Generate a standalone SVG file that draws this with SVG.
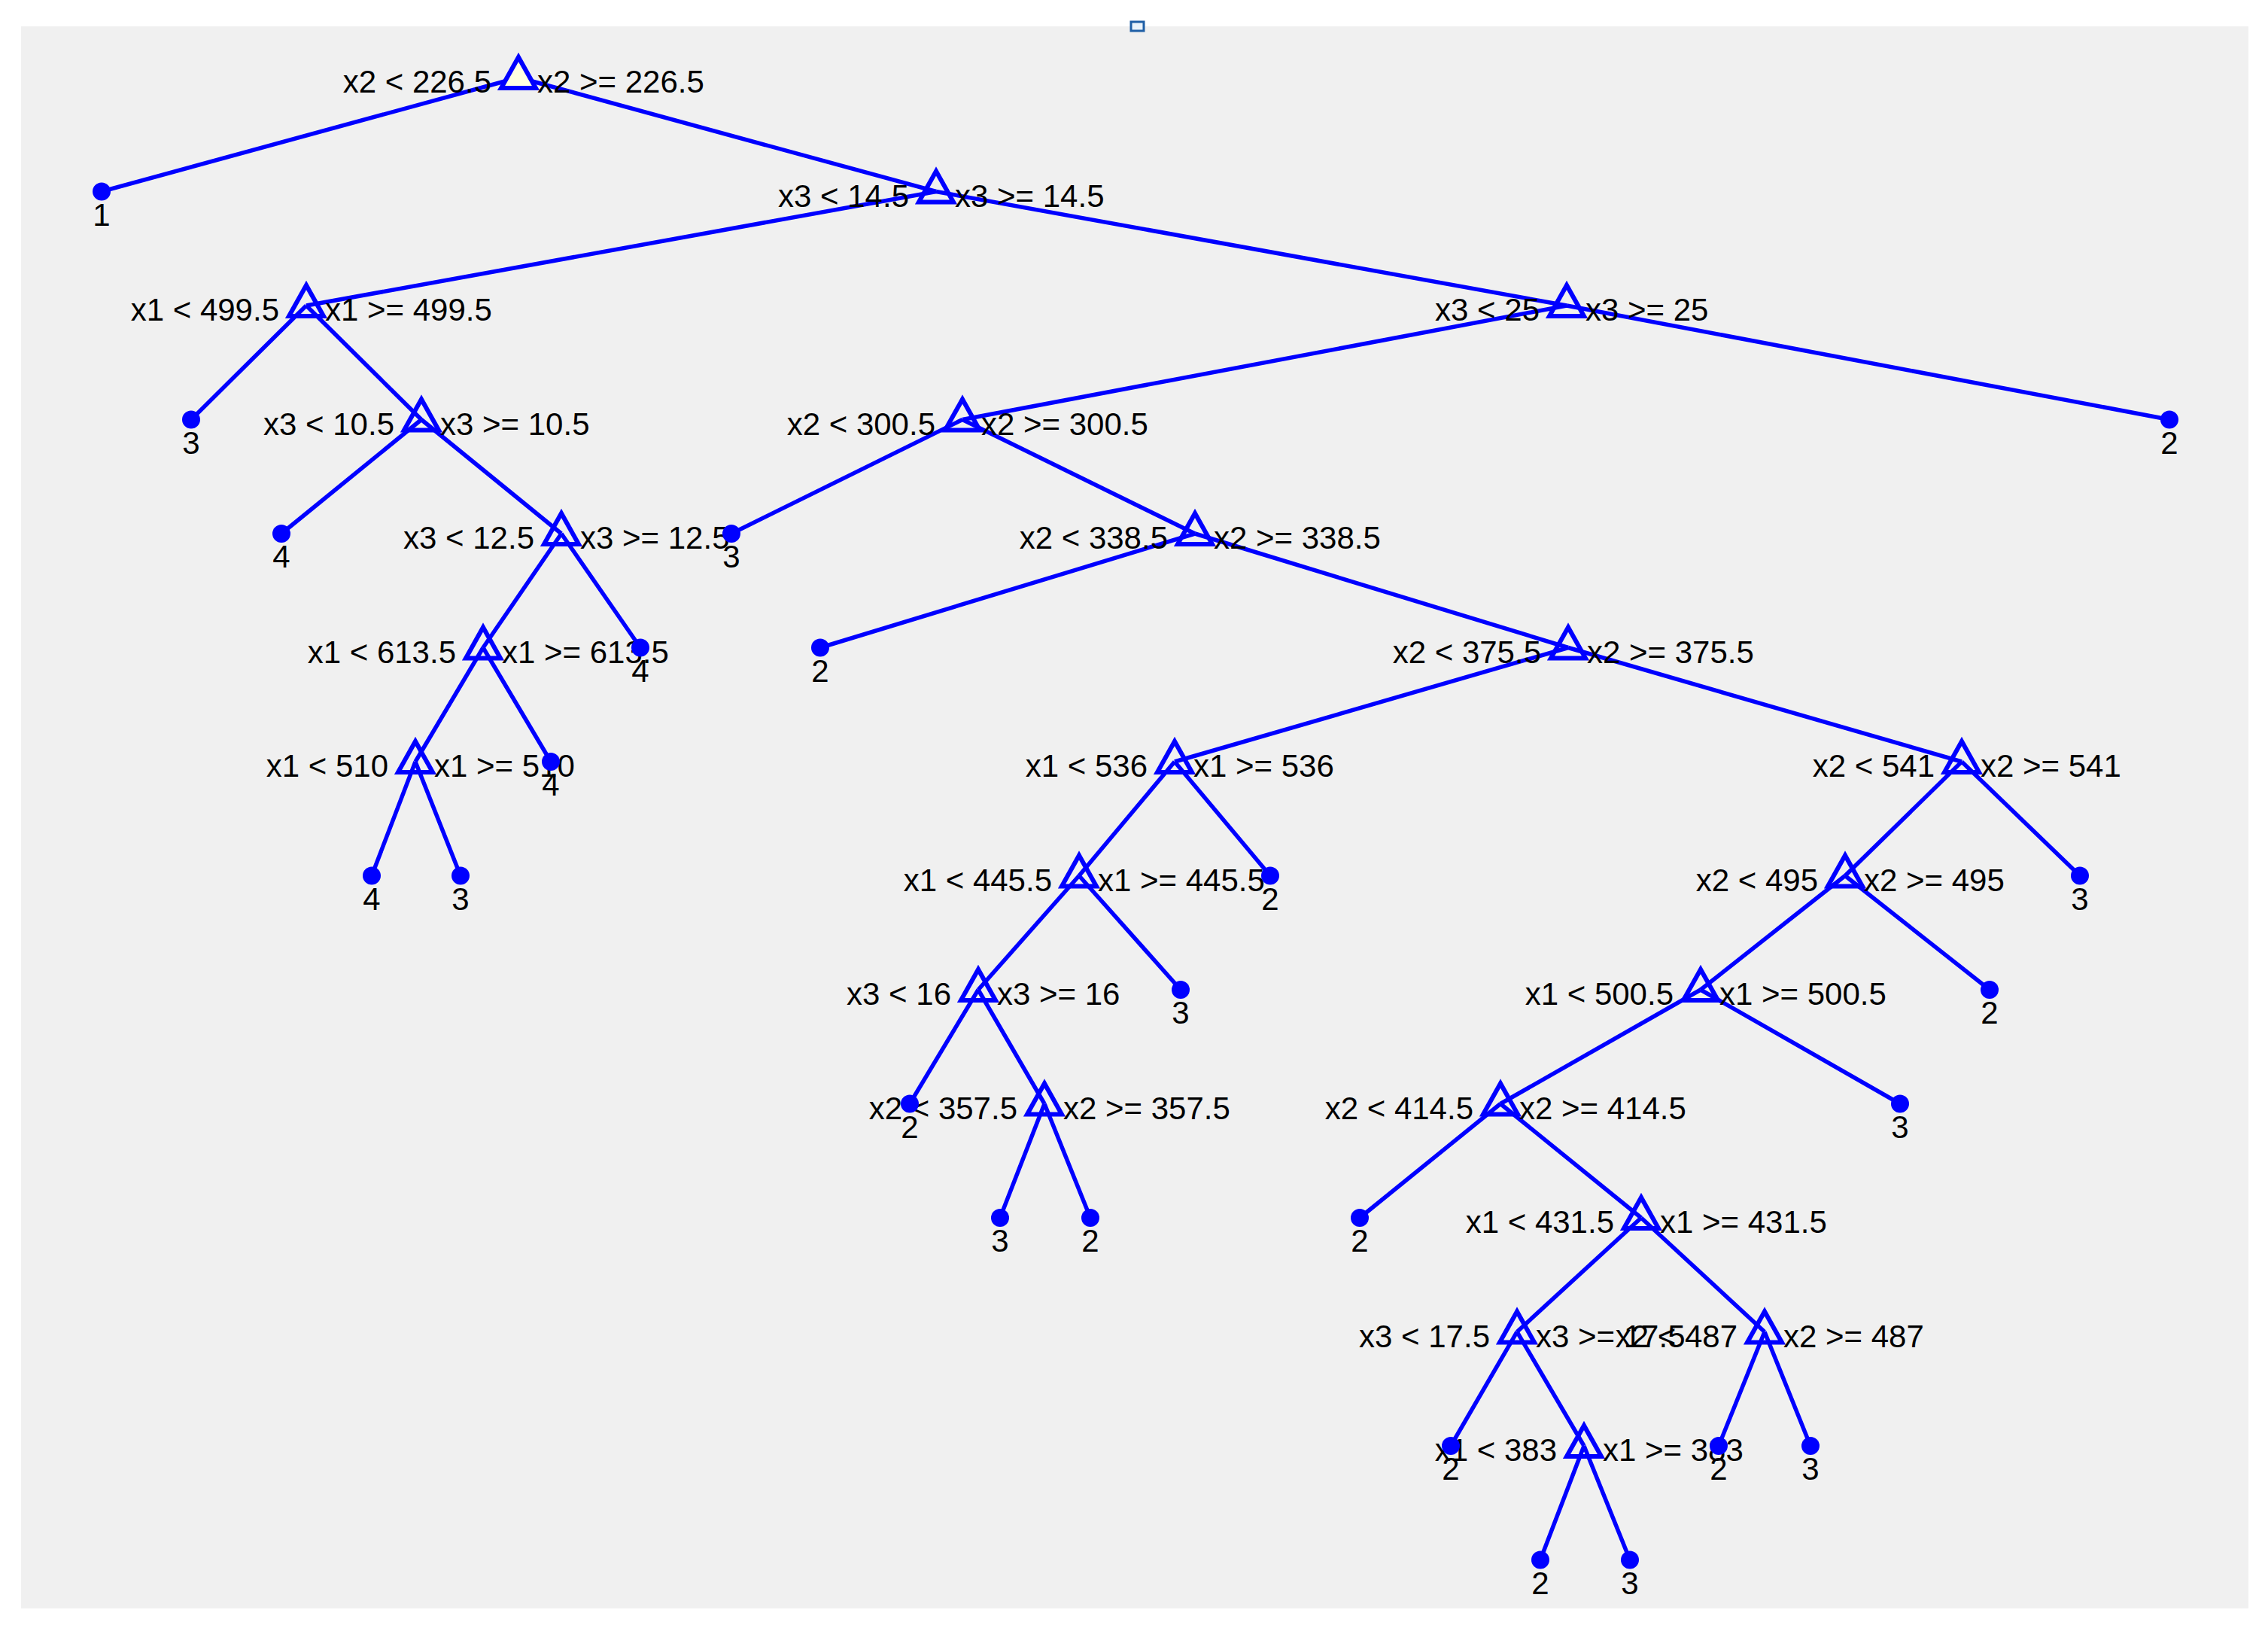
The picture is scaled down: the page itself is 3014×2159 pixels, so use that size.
<svg xmlns="http://www.w3.org/2000/svg" xmlns:xlink="http://www.w3.org/1999/xlink" width="3014" height="2159" viewBox="0 0 3014 2159">
<defs>
<style>
text{font-family:"Liberation Sans",Arial,sans-serif;font-size:42px;fill:#000}
.l{text-anchor:end}
.r{text-anchor:start}
.v{text-anchor:middle}
.tri{fill:none;stroke:#0000ff;stroke-width:6;stroke-linejoin:miter}
.dot{fill:#0000ff}
#connectors path{stroke:#0000ff;stroke-width:5.5;fill:none}
</style>
<polygon id="tri" class="tri" points="0,-27 -23,14 23,14"/>
</defs>
<rect x="0" y="0" width="3014" height="2159" fill="#ffffff"/>
<rect x="28" y="35" width="2960" height="2102" fill="#f0f0f0"/>
<rect x="1503" y="29" width="17" height="12" fill="#eaf3fb" stroke="#1f5fa6" stroke-width="3"/>
<g id="connectors">
<path d="M689,103 L135,254.5 M689,103 L1244,254.5"/>
<path d="M1244,254.5 L407,406 M1244,254.5 L2082,406"/>
<path d="M407,406 L254,557.5 M407,406 L560,557.5"/>
<path d="M2082,406 L1279,557.5 M2082,406 L2883,557.5"/>
<path d="M560,557.5 L374,709 M560,557.5 L746,709"/>
<path d="M1279,557.5 L972,709 M1279,557.5 L1588,709"/>
<path d="M746,709 L642,860.5 M746,709 L851,860.5"/>
<path d="M1588,709 L1090,860.5 M1588,709 L2084,860.5"/>
<path d="M642,860.5 L552,1012 M642,860.5 L732,1012"/>
<path d="M2084,860.5 L1561,1012 M2084,860.5 L2607,1012"/>
<path d="M552,1012 L494,1163.5 M552,1012 L612,1163.5"/>
<path d="M1561,1012 L1434,1163.5 M1561,1012 L1688,1163.5"/>
<path d="M2607,1012 L2452,1163.5 M2607,1012 L2764,1163.5"/>
<path d="M1434,1163.5 L1300,1315 M1434,1163.5 L1569,1315"/>
<path d="M2452,1163.5 L2260,1315 M2452,1163.5 L2644,1315"/>
<path d="M1300,1315 L1209,1466.5 M1300,1315 L1388,1466.5"/>
<path d="M2260,1315 L1994,1466.5 M2260,1315 L2525,1466.5"/>
<path d="M1388,1466.5 L1329,1618 M1388,1466.5 L1449,1618"/>
<path d="M1994,1466.5 L1807,1618 M1994,1466.5 L2181,1618"/>
<path d="M2181,1618 L2016,1769.5 M2181,1618 L2345,1769.5"/>
<path d="M2016,1769.5 L1928,1921 M2016,1769.5 L2105,1921"/>
<path d="M2345,1769.5 L2284,1921 M2345,1769.5 L2406,1921"/>
<path d="M2105,1921 L2047,2072.5 M2105,1921 L2166,2072.5"/>
</g>
<g id="n1" transform="translate(689,103)"><polygon class="tri" points="0,-27 -23,14 23,14" style="fill:#ffffe1"/><text class="l" x="-36" y="20">x2 &lt; 226.5</text><text class="r" x="25" y="20">x2 &gt;= 226.5</text></g>
<g id="n3" transform="translate(1244,254.5)"><use xlink:href="#tri"/><text class="l" x="-36" y="20">x3 &lt; 14.5</text><text class="r" x="25" y="20">x3 &gt;= 14.5</text></g>
<g id="n4" transform="translate(407,406)"><use xlink:href="#tri"/><text class="l" x="-36" y="20">x1 &lt; 499.5</text><text class="r" x="25" y="20">x1 &gt;= 499.5</text></g>
<g id="n5" transform="translate(2082,406)"><use xlink:href="#tri"/><text class="l" x="-36" y="20">x3 &lt; 25</text><text class="r" x="25" y="20">x3 &gt;= 25</text></g>
<g id="n7" transform="translate(560,557.5)"><use xlink:href="#tri"/><text class="l" x="-36" y="20">x3 &lt; 10.5</text><text class="r" x="25" y="20">x3 &gt;= 10.5</text></g>
<g id="n8" transform="translate(1279,557.5)"><use xlink:href="#tri"/><text class="l" x="-36" y="20">x2 &lt; 300.5</text><text class="r" x="25" y="20">x2 &gt;= 300.5</text></g>
<g id="n11" transform="translate(746,709)"><use xlink:href="#tri"/><text class="l" x="-36" y="20">x3 &lt; 12.5</text><text class="r" x="25" y="20">x3 &gt;= 12.5</text></g>
<g id="n13" transform="translate(1588,709)"><use xlink:href="#tri"/><text class="l" x="-36" y="20">x2 &lt; 338.5</text><text class="r" x="25" y="20">x2 &gt;= 338.5</text></g>
<g id="n14" transform="translate(642,860.5)"><use xlink:href="#tri"/><text class="l" x="-36" y="20">x1 &lt; 613.5</text><text class="r" x="25" y="20">x1 &gt;= 613.5</text></g>
<g id="n17" transform="translate(2084,860.5)"><use xlink:href="#tri"/><text class="l" x="-36" y="20">x2 &lt; 375.5</text><text class="r" x="25" y="20">x2 &gt;= 375.5</text></g>
<g id="n18" transform="translate(552,1012)"><use xlink:href="#tri"/><text class="l" x="-36" y="20">x1 &lt; 510</text><text class="r" x="25" y="20">x1 &gt;= 510</text></g>
<g id="n20" transform="translate(1561,1012)"><use xlink:href="#tri"/><text class="l" x="-36" y="20">x1 &lt; 536</text><text class="r" x="25" y="20">x1 &gt;= 536</text></g>
<g id="n21" transform="translate(2607,1012)"><use xlink:href="#tri"/><text class="l" x="-36" y="20">x2 &lt; 541</text><text class="r" x="25" y="20">x2 &gt;= 541</text></g>
<g id="n24" transform="translate(1434,1163.5)"><use xlink:href="#tri"/><text class="l" x="-36" y="20">x1 &lt; 445.5</text><text class="r" x="25" y="20">x1 &gt;= 445.5</text></g>
<g id="n26" transform="translate(2452,1163.5)"><use xlink:href="#tri"/><text class="l" x="-36" y="20">x2 &lt; 495</text><text class="r" x="25" y="20">x2 &gt;= 495</text></g>
<g id="n28" transform="translate(1300,1315)"><use xlink:href="#tri"/><text class="l" x="-36" y="20">x3 &lt; 16</text><text class="r" x="25" y="20">x3 &gt;= 16</text></g>
<g id="n30" transform="translate(2260,1315)"><use xlink:href="#tri"/><text class="l" x="-36" y="20">x1 &lt; 500.5</text><text class="r" x="25" y="20">x1 &gt;= 500.5</text></g>
<g id="n33" transform="translate(1388,1466.5)"><use xlink:href="#tri"/><text class="l" x="-36" y="20">x2 &lt; 357.5</text><text class="r" x="25" y="20">x2 &gt;= 357.5</text></g>
<g id="n34" transform="translate(1994,1466.5)"><use xlink:href="#tri"/><text class="l" x="-36" y="20">x2 &lt; 414.5</text><text class="r" x="25" y="20">x2 &gt;= 414.5</text></g>
<g id="n38" transform="translate(2181,1618)"><use xlink:href="#tri"/><text class="l" x="-36" y="20">x1 &lt; 431.5</text><text class="r" x="25" y="20">x1 &gt;= 431.5</text></g>
<g id="n39" transform="translate(2016,1769.5)"><use xlink:href="#tri"/><text class="l" x="-36" y="20">x3 &lt; 17.5</text><text class="r" x="25" y="20">x3 &gt;= 17.5</text></g>
<g id="n40" transform="translate(2345,1769.5)"><use xlink:href="#tri"/><text class="l" x="-36" y="20">x2 &lt; 487</text><text class="r" x="25" y="20">x2 &gt;= 487</text></g>
<g id="n42" transform="translate(2105,1921)"><use xlink:href="#tri"/><text class="l" x="-36" y="20">x1 &lt; 383</text><text class="r" x="25" y="20">x1 &gt;= 383</text></g>
<g id="leaf2" transform="translate(135,254.5)"><circle class="dot" r="12"/><text class="v" y="45">1</text></g>
<g id="leaf6" transform="translate(254,557.5)"><circle class="dot" r="12"/><text class="v" y="45">3</text></g>
<g id="leaf9" transform="translate(2883,557.5)"><circle class="dot" r="12"/><text class="v" y="45">2</text></g>
<g id="leaf10" transform="translate(374,709)"><circle class="dot" r="12"/><text class="v" y="45">4</text></g>
<g id="leaf12" transform="translate(972,709)"><circle class="dot" r="12"/><text class="v" y="45">3</text></g>
<g id="leaf15" transform="translate(851,860.5)"><circle class="dot" r="12"/><text class="v" y="45">4</text></g>
<g id="leaf16" transform="translate(1090,860.5)"><circle class="dot" r="12"/><text class="v" y="45">2</text></g>
<g id="leaf19" transform="translate(732,1012)"><circle class="dot" r="12"/><text class="v" y="45">4</text></g>
<g id="leaf22" transform="translate(494,1163.5)"><circle class="dot" r="12"/><text class="v" y="45">4</text></g>
<g id="leaf23" transform="translate(612,1163.5)"><circle class="dot" r="12"/><text class="v" y="45">3</text></g>
<g id="leaf25" transform="translate(1688,1163.5)"><circle class="dot" r="12"/><text class="v" y="45">2</text></g>
<g id="leaf27" transform="translate(2764,1163.5)"><circle class="dot" r="12"/><text class="v" y="45">3</text></g>
<g id="leaf29" transform="translate(1569,1315)"><circle class="dot" r="12"/><text class="v" y="45">3</text></g>
<g id="leaf31" transform="translate(2644,1315)"><circle class="dot" r="12"/><text class="v" y="45">2</text></g>
<g id="leaf32" transform="translate(1209,1466.5)"><circle class="dot" r="12"/><text class="v" y="45">2</text></g>
<g id="leaf35" transform="translate(2525,1466.5)"><circle class="dot" r="12"/><text class="v" y="45">3</text></g>
<g id="leaf36" transform="translate(1329,1618)"><circle class="dot" r="12"/><text class="v" y="45">3</text></g>
<g id="leaf37" transform="translate(1449,1618)"><circle class="dot" r="12"/><text class="v" y="45">2</text></g>
<g id="leaf41" transform="translate(1807,1618)"><circle class="dot" r="12"/><text class="v" y="45">2</text></g>
<g id="leaf43" transform="translate(1928,1921)"><circle class="dot" r="12"/><text class="v" y="45">2</text></g>
<g id="leaf44" transform="translate(2284,1921)"><circle class="dot" r="12"/><text class="v" y="45">2</text></g>
<g id="leaf45" transform="translate(2406,1921)"><circle class="dot" r="12"/><text class="v" y="45">3</text></g>
<g id="leaf46" transform="translate(2047,2072.5)"><circle class="dot" r="12"/><text class="v" y="45">2</text></g>
<g id="leaf47" transform="translate(2166,2072.5)"><circle class="dot" r="12"/><text class="v" y="45">3</text></g>
</svg>
